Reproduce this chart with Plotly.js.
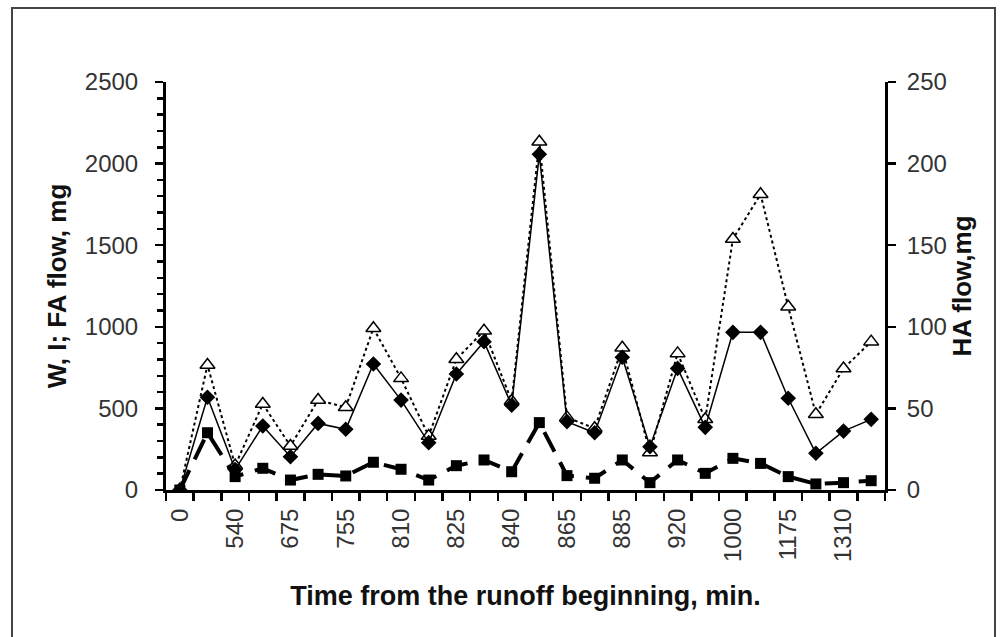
<!DOCTYPE html>
<html>
<head>
<meta charset="utf-8">
<script src="https://cdn.plot.ly/plotly-3.0.1.min.js"></script>
<style>
  html, body { margin: 0; padding: 0; background: #fff; }
  #chart { width: 1002px; height: 637px; }
  #frame { position: absolute; left: 11px; top: 7px; width: 985px; height: 640px;
           border: 2px solid #444; pointer-events: none; box-sizing: border-box; }
</style>
</head>
<body>
<div id="chart"></div>
<div id="frame"></div>
<script>
// Time labels (shown on every other sampling point)
const timeLabels = ['0', '540', '675', '755', '810', '825', '840', '865', '885', '920', '1000', '1175', '1310'];

// W, I flow (filled diamonds, solid line), mg
const wiFlow = [0, 568, 125, 392, 204, 408, 372, 772, 551, 290, 711, 909, 520, 2057, 419, 351, 813, 265, 745, 384, 966, 966, 562, 225, 361, 433];

// FA flow (open triangles, dotted line), mg
const faFlow = [0, 766, 150, 527, 270, 551, 507, 991, 684, 331, 801, 976, 545, 2134, 445, 378, 872, 230, 837, 433, 1538, 1812, 1123, 464, 745, 909];

// HA flow (filled squares, dashed line, right axis), mg
const haFlow = [0, 35.1, 8.2, 13.3, 6.1, 9.6, 8.6, 17.0, 12.7, 6.1, 14.9, 18.4, 11.2, 41.3, 8.8, 7.2, 18.4, 4.5, 18.4, 10.2, 19.4, 16.3, 8.2, 3.7, 4.5, 5.7];

const xIdx = wiFlow.map((_, i) => i);
const tickPos = timeLabels.map((_, i) => i * 2);

const tickFont = { family: '"Liberation Sans", Arial, sans-serif', size: 24, color: '#333' };
const titleFont = { family: '"Liberation Sans", Arial, sans-serif', size: 26, color: '#111', weight: 'bold' };
const xTitleFont = { family: '"Liberation Sans", Arial, sans-serif', size: 27, color: '#111', weight: 'bold' };

const traces = [
  {
    x: xIdx, y: faFlow, type: 'scatter', mode: 'lines+markers', name: 'FA',
    line: { color: '#000', width: 2, dash: 'dot' },
    marker: { symbol: 'triangle-up', size: 13, color: '#fff', line: { color: '#000', width: 1.5 } },
    cliponaxis: true
  },
  {
    x: xIdx, y: wiFlow, type: 'scatter', mode: 'lines+markers', name: 'W, I',
    line: { color: '#000', width: 1.5 },
    marker: { symbol: 'diamond', size: 12, color: '#000' },
    cliponaxis: true
  },
  {
    x: xIdx, y: haFlow, type: 'scatter', mode: 'lines+markers', name: 'HA', yaxis: 'y2',
    line: { color: '#000', width: 4, dash: '22px,12px' },
    marker: { symbol: 'square', size: 11, color: '#000' },
    cliponaxis: true
  }
];

const layout = {
  width: 1002, height: 637,
  margin: { l: 166, r: 117, t: 82, b: 147 },
  paper_bgcolor: '#fff', plot_bgcolor: '#fff',
  showlegend: false,
  xaxis: {
    range: [-0.5, xIdx.length - 0.5],
    tickmode: 'array', tickvals: tickPos, ticktext: timeLabels,
    tickangle: -90, ticks: '', tickfont: tickFont, ticklabelstandoff: 6,
    showline: true, linecolor: '#000', linewidth: 3,
    showgrid: false, zeroline: false,
    minor: { tickmode: 'linear', tick0: -0.5, dtick: 1, ticks: 'outside', ticklen: 8, tickwidth: 2.5, tickcolor: '#000', showgrid: false },
    title: { text: 'Time from the runoff beginning, min.', font: xTitleFont, standoff: 26 },
    automargin: false
  },
  yaxis: {
    range: [0, 2500], tickmode: 'linear', tick0: 0, dtick: 500,
    ticks: 'outside', ticklen: 8, tickwidth: 2.5, tickcolor: '#000',
    tickfont: tickFont, ticklabelstandoff: 12,
    showline: true, linecolor: '#000', linewidth: 3,
    showgrid: false, zeroline: false,
    minor: { tickmode: 'linear', tick0: 0, dtick: 100, ticks: 'outside', ticklen: 6, tickwidth: 2.5, tickcolor: '#000', showgrid: false },
    title: { text: 'W, I; FA flow, mg', font: titleFont, standoff: 11 },
    automargin: false
  },
  yaxis2: {
    overlaying: 'y', side: 'right',
    range: [0, 250], tickmode: 'linear', tick0: 0, dtick: 50,
    ticks: 'outside', ticklen: 8, tickwidth: 2.5, tickcolor: '#000',
    tickfont: tickFont, ticklabelstandoff: 6,
    showline: true, linecolor: '#000', linewidth: 3,
    showgrid: false, zeroline: false,
    title: { text: 'HA flow,mg', font: titleFont, standoff: 4 },
    automargin: false
  }
};

Plotly.newPlot('chart', traces, layout, { staticPlot: true, displayModeBar: false });
</script>
</body>
</html>
